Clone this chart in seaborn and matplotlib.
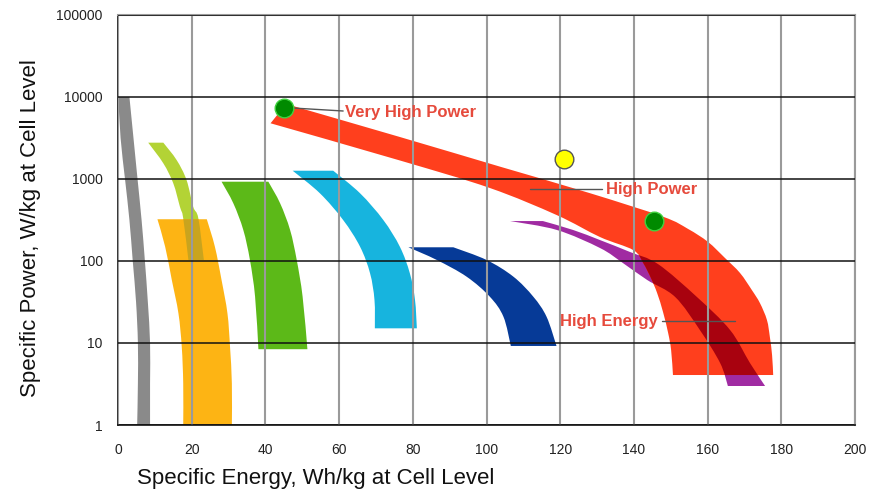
"""
Ragone-style chart: specific power vs specific energy at cell level.
"""

import matplotlib
matplotlib.use('Agg')
import matplotlib.pyplot as plt
import numpy as np
import pandas as pd
import seaborn as sns
from matplotlib.patches import PathPatch
from matplotlib.path import Path
from matplotlib.ticker import FixedLocator, FixedFormatter, NullLocator

energy_ticks = [0, 20, 40, 60, 80, 100, 120, 140, 160, 180, 200]
power_ticks = [1, 10, 100, 1000, 10000, 100000]
power_tick_labels = ['1', '10', '100', '1000', '10000', '100000']

# Band outlines: inner (low energy) edge and outer edge,
# energy in Wh/kg and power in W/kg
gray_inner_e = [0.1, 0.7, 1.9, 3.1, 4.0, 4.9, 5.4, 5.4, 5.2]
gray_inner_p = [10000, 3162, 1000, 316, 100, 31.6, 10, 3.2, 1]
gray_outer_e = [3.1, 4.2, 5.3, 6.4, 7.3, 8.1, 8.7, 8.7, 8.7]
gray_outer_p = [10000, 3162, 1000, 316, 100, 31.6, 10, 3.2, 1]

lime_inner_e = [8.2, 12.3, 15.0, 16.8, 17.7, 19.1]
lime_inner_p = [2773, 1553, 886, 459, 332, 103]
lime_outer_e = [12.3, 15.9, 18.6, 20.4, 21.8, 23.3]
lime_outer_p = [2773, 1706, 972, 459, 332, 103]

orange_inner_e = [10.7, 12.8, 14.6, 16.4, 17.3, 17.7, 17.7]
orange_inner_p = [323, 149, 58.7, 23.0, 9.0, 3.2, 1]
orange_outer_e = [24.1, 26.3, 28.1, 29.7, 30.4, 30.9, 30.9]
orange_outer_p = [323, 149, 58.7, 23.0, 9.0, 3.2, 1]

green_inner_e = [28.1, 31.3, 34.0, 35.8, 37.2, 38.1]
green_inner_p = [927, 505, 239, 103, 36.7, 8.4]
green_outer_e = [40.8, 44.0, 46.7, 48.5, 50.1, 51.4]
green_outer_p = [927, 505, 239, 103, 36.7, 8.4]

cyan_inner_e = [47.4, 54.8, 61.1, 65.7, 68.4, 69.6, 69.7]
cyan_inner_p = [1262, 669, 316, 149, 70.8, 33.5, 15.1]
cyan_outer_e = [58.4, 65.7, 72.0, 76.5, 79.2, 80.6, 81.1]
cyan_outer_p = [1262, 669, 316, 149, 70.8, 33.5, 15.1]

navy_inner_e = [78.8, 86.5, 94.6, 100.9, 104.6, 106.6]
navy_inner_p = [147, 103, 64.4, 36.7, 20.9, 9.2]
navy_outer_e = [91.0, 100.0, 107.3, 112.7, 116.3, 119.0]
navy_outer_p = [147, 103, 64.4, 36.7, 20.9, 9.2]

purple_inner_e = [106.4, 119.1, 130.8, 137.0, 143.6, 151.2, 157.9, 163.4, 165.5]
purple_inner_p = [307, 239, 144, 94.6, 58.7, 36.4, 14.4, 5.7, 2.99]
purple_outer_e = [115.3, 123.5, 130.8, 138.9, 146.5, 157.1, 166.1, 171.5, 175.6]
purple_outer_p = [307, 239, 180, 129, 92, 36.4, 14.4, 5.7, 2.99]

red_inner_e = [41.4, 76.5, 100.9, 119.0, 130.8, 139.8, 142.5, 144.6, 146.3,
               147.9, 149.3, 150.1, 150.6]
red_inner_p = [4780, 1682, 777, 364, 196, 136, 94.6, 62.1, 40.7,
               23.9, 13.2, 8.2, 4.07]
red_outer_e = [45.6, 76.5, 103.7, 128.1, 147.9, 154.7, 160.1, 164.7, 168.8,
               172.0, 174.2, 176.1, 176.9, 177.5, 177.8]
red_outer_p = [8220, 3252, 1413, 671, 347, 246, 171, 109, 71.4,
               44.3, 30.7, 19.1, 11.8, 7.1, 4.07]

# marker points
green_dot_e = [45.0, 145.5]
green_dot_p = [7340, 307]
yellow_dot_e = [121.0]
yellow_dot_p = [1754]

# callouts: text, text anchor, leader line start/end
callout_text = ['Very High Power', 'High Power', 'High Energy']
callout_e = [61.6, 132.4, 119.9]
callout_p = [6560, 755, 18.5]
leader_e0 = [47.5, 111.8, 147.6]
leader_p0 = [7340, 755, 18.5]
leader_e1 = [61.1, 131.3, 167.4]
leader_p1 = [6750, 755, 18.5]


def smooth_edge(es, ps):
    """Bezier segments through the edge points, worked out in (energy, log power)."""
    pts = np.column_stack([es, np.log10(ps)])
    n = len(pts)
    verts = []
    for i in range(n - 1):
        p0 = pts[max(i - 1, 0)]
        p1 = pts[i]
        p2 = pts[i + 1]
        p3 = pts[min(i + 2, n - 1)]
        verts += [p1 + (p2 - p0) / 6, p2 - (p3 - p1) / 6, p2]
    return pts[0], verts


def add_band(ax, inner_e, inner_p, outer_e, outer_p, color, clip=None):
    """Fill the area between an inner and an outer edge."""
    start, inner_curve = smooth_edge(inner_e, inner_p)
    o_start, outer_curve = smooth_edge(outer_e[::-1], outer_p[::-1])
    verts = [start] + inner_curve + [o_start] + outer_curve + [start]
    codes = ([Path.MOVETO] + [Path.CURVE4] * len(inner_curve) + [Path.LINETO]
             + [Path.CURVE4] * len(outer_curve) + [Path.CLOSEPOLY])
    verts = np.array(verts)
    verts[:, 1] = 10 ** verts[:, 1]
    patch = PathPatch(Path(verts, codes), facecolor=color, edgecolor='none', zorder=1)
    ax.add_patch(patch)
    if clip is not None:
        patch.set_clip_path(clip)
    return patch


def plot_ragone(output_path='out.png'):
    sns.set_style('white')
    plt.rcParams['font.family'] = ['Liberation Sans', 'DejaVu Sans']

    fig = plt.figure(figsize=(8.8, 4.9), dpi=100)
    ax = fig.add_axes([118 / 880, 65 / 490, 737 / 880, 410 / 490])
    ax.set_yscale('log')
    ax.set_xlim(0, 200)
    ax.set_ylim(1, 100000)

    add_band(ax, gray_inner_e, gray_inner_p, gray_outer_e, gray_outer_p, '#8a8a8a')
    add_band(ax, lime_inner_e, lime_inner_p, lime_outer_e, lime_outer_p, '#b3d335')
    orange = add_band(ax, orange_inner_e, orange_inner_p, orange_outer_e, orange_outer_p, '#fdb414')
    add_band(ax, lime_inner_e, lime_inner_p, lime_outer_e, lime_outer_p, '#c9a41e', clip=orange)
    add_band(ax, green_inner_e, green_inner_p, green_outer_e, green_outer_p, '#5cb918')
    add_band(ax, cyan_inner_e, cyan_inner_p, cyan_outer_e, cyan_outer_p, '#17b4de')
    add_band(ax, navy_inner_e, navy_inner_p, navy_outer_e, navy_outer_p, '#063a97')
    add_band(ax, purple_inner_e, purple_inner_p, purple_outer_e, purple_outer_p, '#a02ba2')
    red = add_band(ax, red_inner_e, red_inner_p, red_outer_e, red_outer_p, '#ff3f1d')
    add_band(ax, purple_inner_e, purple_inner_p, purple_outer_e, purple_outer_p, '#a8020f', clip=red)

    # grid on top of the bands, as in the original
    ax.set_axisbelow(False)
    ax.xaxis.set_major_locator(FixedLocator(energy_ticks))
    ax.yaxis.set_major_locator(FixedLocator(power_ticks))
    ax.yaxis.set_major_formatter(FixedFormatter(power_tick_labels))
    ax.yaxis.set_minor_locator(NullLocator())
    ax.grid(True, axis='x', color='#9a9a9a', linewidth=1.5)
    ax.grid(True, axis='y', color='#111111', linewidth=1.1)

    for side in ['top', 'right']:
        ax.spines[side].set_color('#9a9a9a')
        ax.spines[side].set_linewidth(1.5)
    for side in ['left', 'bottom']:
        ax.spines[side].set_color('#111111')
        ax.spines[side].set_linewidth(1.2)

    ax.tick_params(axis='both', which='major', direction='out', length=5, width=1,
                   color='#111111', labelsize=10, labelcolor='#222222')
    ax.tick_params(axis='y', pad=6)
    ax.tick_params(axis='x', pad=8)

    # leader lines and callout text
    for e0, p0, e1, p1 in zip(leader_e0, leader_p0, leader_e1, leader_p1):
        ax.plot([e0, e1], [p0, p1], color='#555555', linewidth=1.0, zorder=3)
    for txt, e, p in zip(callout_text, callout_e, callout_p):
        ax.text(e, p, txt, color='#e64a3c', fontsize=12, fontweight='bold',
                ha='left', va='center', zorder=5)

    dots = pd.DataFrame({'energy': green_dot_e, 'power': green_dot_p})
    sns.scatterplot(data=dots, x='energy', y='power', s=180, color='#008a00',
                    edgecolor='#3fd23f', linewidth=1.0, zorder=4, ax=ax, legend=False)
    sun = pd.DataFrame({'energy': yellow_dot_e, 'power': yellow_dot_p})
    sns.scatterplot(data=sun, x='energy', y='power', s=180, color='#ffff00',
                    edgecolor='#555555', linewidth=1.0, zorder=4, ax=ax, legend=False)
    ax.set_xlabel('')
    ax.set_ylabel('')

    fig.text(316 / 880, 6 / 490, 'Specific Energy, Wh/kg at Cell Level',
             fontsize=16, ha='center', va='baseline', color='#111111')
    fig.text(31 / 880, 1 - 228 / 490, 'Specific Power, W/kg at Cell Level',
             fontsize=16, ha='center', va='center', rotation=90, color='#111111')

    fig.savefig(output_path, dpi=100)
    plt.close(fig)


if __name__ == "__main__":
    plot_ragone()
